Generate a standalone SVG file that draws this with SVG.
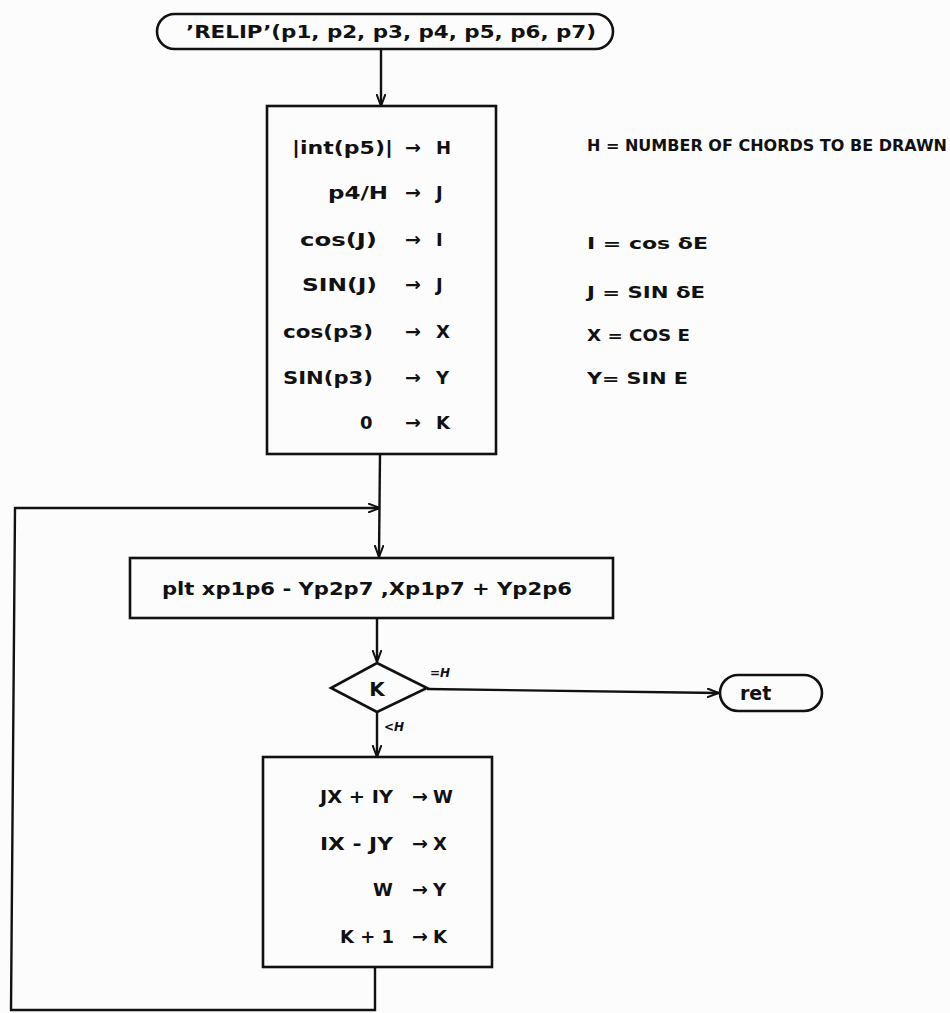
<svg xmlns="http://www.w3.org/2000/svg" width="950" height="1013" viewBox="0 0 950 1013">
<style>
.shape{fill:none;stroke:#111;stroke-width:2.6}
.conn{fill:none;stroke:#111;stroke-width:2.4}
text{font-family:"DejaVu Sans","Liberation Sans",sans-serif;font-weight:bold;fill:#111}
.t{font-size:18px}
.r{font-size:18px}
.a{font-size:19px;text-anchor:middle}
.n{font-size:15px}
.s{font-size:12px;font-style:italic}
</style>
<defs>
<marker id="ah" viewBox="0 0 12 10" refX="12" refY="5" markerWidth="12" markerHeight="10" markerUnits="userSpaceOnUse" orient="auto">
<path d="M0,0.5 L12,5 L0,9.5" fill="none" stroke="#111" stroke-width="2"/>
</marker>
</defs>
<rect width="950" height="1013" fill="#fcfcfc"/>
<g id="connectors">
<line class="conn" x1="381" y1="49" x2="381" y2="106" marker-end="url(#ah)"/>
<line class="conn" x1="380" y1="454" x2="379" y2="557" marker-end="url(#ah)"/>
<polyline class="conn" points="375,967 375,1010 11,1010 15,508 380,508" marker-end="url(#ah)"/>
<line class="conn" x1="377" y1="619" x2="377" y2="662" marker-end="url(#ah)"/>
<line class="conn" x1="427" y1="689" x2="719" y2="693" marker-end="url(#ah)"/>
<line class="conn" x1="377" y1="712" x2="377" y2="757" marker-end="url(#ah)"/>
<text class="s" x="430" y="677">=H</text>
<text class="s" x="384" y="731">&lt;H</text>
</g>
<g id="start">
<rect class="shape" x="157" y="14" width="456" height="35" rx="17.5"/>
<text x="186" y="38" font-size="18" textLength="410" lengthAdjust="spacingAndGlyphs">’RELIP’(p1, p2, p3, p4, p5, p6, p7)</text>
</g>
<g id="init">
<rect class="shape" x="267" y="106" width="229" height="348"/>
<text class="r" x="292" y="154" textLength="101" lengthAdjust="spacingAndGlyphs">|int(p5)|</text>
<text class="r" x="328" y="199" textLength="60" lengthAdjust="spacingAndGlyphs">p4/H</text>
<text class="r" x="300" y="246" textLength="77" lengthAdjust="spacingAndGlyphs">cos(J)</text>
<text class="r" x="302" y="291" textLength="75" lengthAdjust="spacingAndGlyphs">SIN(J)</text>
<text class="r" x="283" y="338" textLength="90" lengthAdjust="spacingAndGlyphs">cos(p3)</text>
<text class="r" x="283" y="384" textLength="90" lengthAdjust="spacingAndGlyphs">SIN(p3)</text>
<text class="r" x="360" y="429">0</text>
<text class="a" x="413" y="154">→</text>
<text class="a" x="413" y="199">→</text>
<text class="a" x="413" y="246">→</text>
<text class="a" x="413" y="291">→</text>
<text class="a" x="413" y="338">→</text>
<text class="a" x="413" y="384">→</text>
<text class="a" x="413" y="429">→</text>
<text class="t" x="436" y="154">H</text>
<text class="t" x="436" y="199">J</text>
<text class="t" x="436" y="246">I</text>
<text class="t" x="436" y="291">J</text>
<text class="t" x="436" y="338">X</text>
<text class="t" x="436" y="384">Y</text>
<text class="t" x="436" y="429">K</text>
</g>
<g id="notes">
<text class="n" x="587" y="151" textLength="360" lengthAdjust="spacingAndGlyphs">H = NUMBER OF CHORDS TO BE DRAWN</text>
<text class="n" x="587" y="249" textLength="121" lengthAdjust="spacingAndGlyphs">I = cos δE</text>
<text class="n" x="587" y="298" textLength="118" lengthAdjust="spacingAndGlyphs">J = SIN δE</text>
<text class="n" x="587" y="341" textLength="103" lengthAdjust="spacingAndGlyphs">X = COS E</text>
<text class="n" x="587" y="384" textLength="101" lengthAdjust="spacingAndGlyphs">Y= SIN E</text>
</g>
<g id="plot">
<rect class="shape" x="130" y="558" width="483" height="60"/>
<text x="162" y="595" font-size="17" textLength="410" lengthAdjust="spacingAndGlyphs">plt xp1p6 - Yp2p7 ,Xp1p7 + Yp2p6</text>
</g>
<g id="test">
<polygon class="shape" points="377,663 427,688 377,712 331,688"/>
<text x="377" y="696" font-size="20" text-anchor="middle">K</text>
</g>
<g id="ret">
<rect class="shape" x="720" y="675" width="102" height="36" rx="18"/>
<text x="740" y="700" font-size="19">ret</text>
</g>
<g id="update">
<rect class="shape" x="263" y="757" width="229" height="210"/>
<text class="r" x="320" y="803" textLength="73" lengthAdjust="spacingAndGlyphs">JX + IY</text>
<text class="r" x="320" y="850" textLength="73" lengthAdjust="spacingAndGlyphs">IX - JY</text>
<text class="r" x="373" y="896">W</text>
<text class="r" x="340" y="943">K + 1</text>
<text class="a" x="420" y="803">→</text>
<text class="a" x="420" y="850">→</text>
<text class="a" x="420" y="896">→</text>
<text class="a" x="420" y="943">→</text>
<text class="t" x="433" y="803">W</text>
<text class="t" x="433" y="850">X</text>
<text class="t" x="433" y="896">Y</text>
<text class="t" x="433" y="943">K</text>
</g>
</svg>
